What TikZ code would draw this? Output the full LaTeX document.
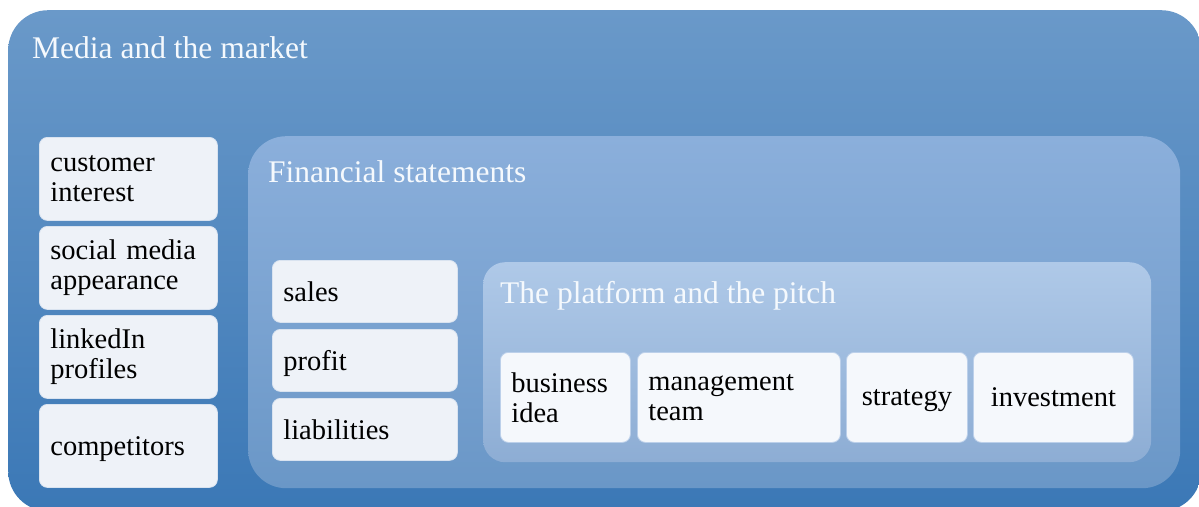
\documentclass[tikz,border=0pt]{standalone}
\usepackage{fontspec}
\setmainfont{Liberation Serif}
\definecolor{outerTop}{HTML}{6A99C9}
\definecolor{outerBot}{HTML}{3B78B6}
\definecolor{finTop}{HTML}{8BAFDB}
\definecolor{finBot}{HTML}{6A97C7}
\definecolor{platTop}{HTML}{AFC9E8}
\definecolor{platBot}{HTML}{8DADD4}
\definecolor{itemfill}{HTML}{EEF2F8}
\definecolor{itemborder}{HTML}{D9E3F0}
\definecolor{platfill}{HTML}{F5F8FC}
\definecolor{platborder}{HTML}{BCD0EA}
\definecolor{titlecol}{HTML}{F5F9FD}
\newcommand{\nodp}[1]{\raisebox{0pt}[\height][0pt]{#1}}
\begin{document}
\begin{tikzpicture}[x=1pt,y=-1pt,
  container/.style={anchor=north west, inner sep=0pt, draw=none},
  title/.style={anchor=base west, text=titlecol, font=\fontsize{31.5}{36}\selectfont, inner sep=0pt},
  item/.style={anchor=north west, draw=itemborder, line width=0.8pt, fill=itemfill,
    rounded corners=8pt, inner xsep=11pt, inner ysep=0pt, align=left, text=black,
    font=\fontsize{28.5}{30}\selectfont},
  platitem/.style={item, draw=platborder, fill=platfill},
]
\useasboundingbox (0,0) rectangle (1199,506);
% containers
\node[container, top color=outerTop, bottom color=outerBot, rounded corners=40pt,
  minimum width=1193pt, minimum height=501pt] (media) at (8,10) {};
\node[container, top color=finTop, bottom color=finBot, rounded corners=38pt,
  minimum width=932pt, minimum height=352pt] (fin) at (248,136) {};
\node[container, top color=platTop, bottom color=platBot, rounded corners=22pt,
  minimum width=668pt, minimum height=200pt] (plat) at (483,262) {};
% titles
\node[title] (tmedia) at (32,58) {Media and the market};
\node[title] (tfin) at (268,182) {Financial statements};
\node[title] (tplat) at (500,303) {The platform and the pitch};
% left column
\node[item, text width=156pt, minimum height=83pt] (ci) at (39,137) {customer\\interest};
\node[item, text width=156pt, minimum height=83pt] (sm) at (39,226) {social media\\appearance};
\node[item, text width=156pt, minimum height=83pt] (li) at (39,315) {linkedIn\\profiles};
\node[item, text width=156pt, minimum height=83pt] (co) at (39,404) {\nodp{competitors}};
% financial column
\node[item, text width=163pt, minimum height=62pt] (sa) at (272,260) {sales};
\node[item, text width=163pt, minimum height=62pt] (pr) at (272,329) {\nodp{profit}};
\node[item, text width=163pt, minimum height=62pt] (lb) at (272,398) {liabilities};
% platform row
\node[platitem, text width=108pt, minimum height=90pt] (bi) at (500,352) {business\\idea};
\node[platitem, text width=181pt, minimum height=90pt] (mt) at (637,352) {management\\team};
\node[platitem, text width=99pt, minimum height=90pt, align=center] (st) at (846,352) {\nodp{strategy}};
\node[platitem, text width=138pt, minimum height=90pt, align=center] (iv) at (973,352) {investment};
\end{tikzpicture}
\end{document}
